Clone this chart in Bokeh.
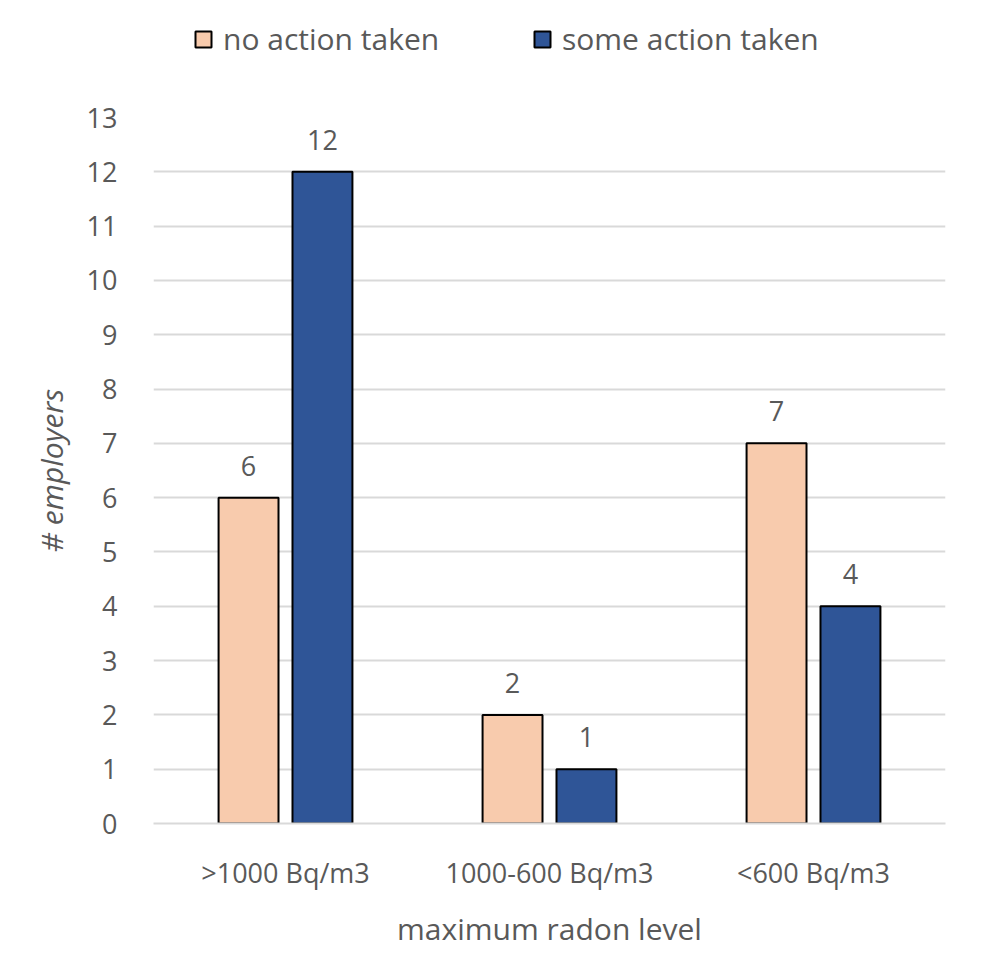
from bokeh.plotting import figure
from bokeh.layouts import column
from bokeh.models import ColumnDataSource, FactorRange, Legend, LegendItem, Range1d, FixedTicker
from bokeh.transform import dodge
from bokeh.core.properties import value
from bokeh.embed import file_html
from bokeh.resources import INLINE

categories = [">1000 Bq/m3", "1000-600 Bq/m3", "<600 Bq/m3"]
no_action = [6, 2, 7]
some_action = [12, 1, 4]
series_names = ["no action taken", "some action taken"]
series_colors = ["#F8CBAD", "#2F5597"]
y_ticks = list(range(0, 14))

FONT = "Open Sans"
GRAY = "#595959"

src = ColumnDataSource(dict(cat=categories, no=no_action, some=some_action,
                            no_lbl=[str(v) for v in no_action],
                            some_lbl=[str(v) for v in some_action]))

# ---------- legend strip (bars hidden, only the legend shows) ----------
lf = figure(width=992, height=80, x_range=FactorRange(*categories), y_range=Range1d(50, 51),
            output_backend="svg", toolbar_location=None,
            min_border_left=0, min_border_right=0, min_border_top=0, min_border_bottom=0)
lf.axis.visible = False
lf.grid.visible = False
lf.outline_line_color = None
d1 = lf.vbar(x=dodge("cat", -0.14, range=lf.x_range), top="no", width=0.227, source=src,
             fill_color=series_colors[0], line_color="black", line_width=2, visible=False)
d2 = lf.vbar(x=dodge("cat", 0.14, range=lf.x_range), top="some", width=0.227, source=src,
             fill_color=series_colors[1], line_color="black", line_width=2, visible=False)
legend = Legend(items=[LegendItem(label=series_names[0], renderers=[d1]),
                       LegendItem(label=series_names[1], renderers=[d2])],
                orientation="horizontal", location=(40, 21),
                label_text_font=FONT, label_text_font_size="30px", label_text_color=GRAY,
                glyph_width=20, glyph_height=20, spacing=0, label_standoff=10,
                label_width=309, inactive_fill_alpha=0,
                background_fill_alpha=0, border_line_color=None, padding=0, margin=0)
lf.add_layout(legend, "center")

# ---------- main chart ----------
p = figure(x_range=FactorRange(*categories, range_padding=0), y_range=Range1d(0, 13),
           width=992, height=871, output_backend="svg", toolbar_location=None,
           min_border_left=153, min_border_right=47, min_border_top=37, min_border_bottom=119)

p.vbar(x=dodge("cat", -0.14, range=p.x_range), top="no", width=0.227, source=src,
       fill_color=series_colors[0], line_color="black", line_width=2)
p.vbar(x=dodge("cat", 0.14, range=p.x_range), top="some", width=0.227, source=src,
       fill_color=series_colors[1], line_color="black", line_width=2)

p.text(x=dodge("cat", -0.14, range=p.x_range), y="no", text="no_lbl", source=src,
       text_align="center", text_baseline="bottom", y_offset=-22,
       text_font=value(FONT), text_font_size="27px", text_color=GRAY)
p.text(x=dodge("cat", 0.14, range=p.x_range), y="some", text="some_lbl", source=src,
       text_align="center", text_baseline="bottom", y_offset=-22,
       text_font=value(FONT), text_font_size="27px", text_color=GRAY)

p.outline_line_color = None
p.xgrid.grid_line_color = None
p.ygrid.grid_line_color = "#D9D9D9"
p.ygrid.grid_line_width = 2
p.yaxis.ticker = FixedTicker(ticks=y_ticks)

p.yaxis.axis_line_color = None
p.yaxis.major_tick_line_color = None
p.yaxis.minor_tick_line_color = None
p.yaxis.major_label_text_font = FONT
p.yaxis.major_label_text_font_size = "27px"
p.yaxis.major_label_text_color = GRAY
p.yaxis.major_label_standoff = 30
p.yaxis.axis_label = "# employers"
p.yaxis.axis_label_text_font = FONT
p.yaxis.axis_label_text_font_style = "italic"
p.yaxis.axis_label_text_font_size = "30px"
p.yaxis.axis_label_text_color = GRAY
p.yaxis.axis_label_standoff = 12

p.xaxis.axis_line_color = "#D9D9D9"
p.xaxis.axis_line_width = 2
p.xaxis.major_tick_line_color = None
p.xaxis.minor_tick_line_color = None
p.xaxis.major_label_text_font = FONT
p.xaxis.major_label_text_font_size = "27px"
p.xaxis.major_label_text_color = GRAY
p.xaxis.major_label_standoff = 24
p.xaxis.axis_label = "maximum radon level"
p.xaxis.axis_label_text_font = FONT
p.xaxis.axis_label_text_font_style = "normal"
p.xaxis.axis_label_text_font_size = "30px"
p.xaxis.axis_label_text_color = GRAY
p.xaxis.axis_label_standoff = 14

layout = column(lf, p, spacing=0)
open("out.html", "w").write(file_html(layout, INLINE))
